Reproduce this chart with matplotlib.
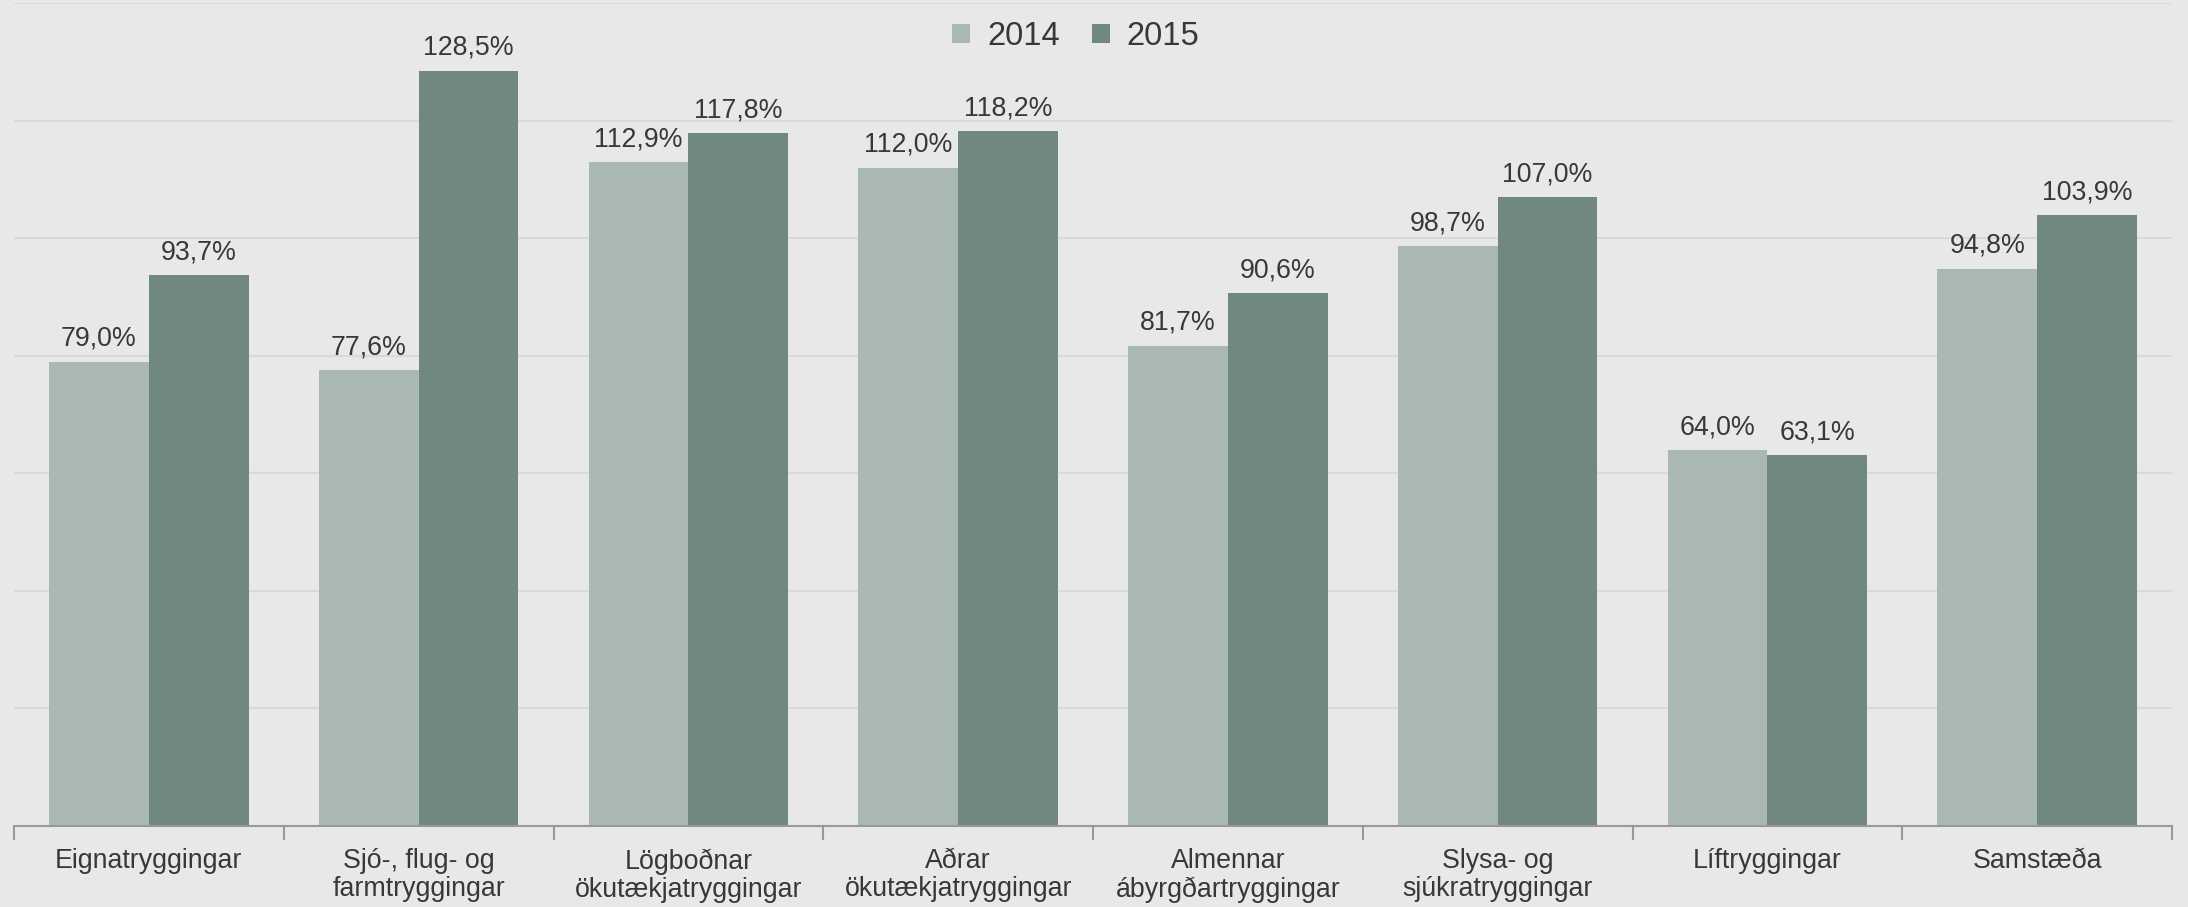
import matplotlib
matplotlib.use("Agg")
import matplotlib.pyplot as plt
import numpy as np

categories = ["Eignatryggingar", "Sjó-, flug- og\nfarmtryggingar", "Lögboðnar\nökutækjatryggingar",
              "Aðrar\nökutækjatryggingar", "Almennar\nábyrgðartryggingar", "Slysa- og\nsjúkratryggingar",
              "Líftryggingar", "Samstæða"]
vals_2014 = [79.0, 77.6, 112.9, 112.0, 81.7, 98.7, 64.0, 94.8]
vals_2015 = [93.7, 128.5, 117.8, 118.2, 90.6, 107.0, 63.1, 103.9]
series_names = ["2014", "2015"]

plt.rcParams['font.family'] = ['Liberation Sans', 'DejaVu Sans']
bg = "#e8e8e8"
c14 = "#a9b9b2"
c15 = "#718880"
tc = "#383838"

fig = plt.figure(figsize=(21.88, 9.07), dpi=100, facecolor=bg)
ax = fig.add_axes([0.0064, 0.0893, 0.9863, 0.9074])
ax.set_facecolor(bg)

x = np.arange(len(categories))
w = 0.37
b1 = ax.bar(x - w/2, vals_2014, w, color=c14, label=series_names[0], zorder=2)
b2 = ax.bar(x + w/2, vals_2015, w, color=c15, label=series_names[1], zorder=2)

def fmt(v):
    return f"{v:.1f}".replace(".", ",") + "%"

for bars, vals in ((b1, vals_2014), (b2, vals_2015)):
    for r, v in zip(bars, vals):
        ax.annotate(fmt(v), (r.get_x() + r.get_width()/2, v), xytext=(0, 7),
                    textcoords="offset points", ha="center", va="bottom",
                    fontsize=19.3, color=tc)

ax.set_xlim(-0.5, len(categories) - 0.5)
ax.set_ylim(0, 140)
ax.set_yticks(np.arange(20, 141, 20))
ax.yaxis.grid(True, color="#d9d9d9", linewidth=1.5, zorder=0)
ax.tick_params(axis='y', left=False, labelleft=False)
for s in ("left", "right", "top"):
    ax.spines[s].set_visible(False)
ax.spines["bottom"].set_color("#999999")
ax.spines["bottom"].set_linewidth(1.5)

ax.set_xticks(np.arange(-0.5, len(categories), 1.0))
ax.set_xticklabels([])
ax.tick_params(axis='x', which='major', length=10, width=1.5, color="#999999")
ax.set_xticks(x, minor=True)
ax.set_xticklabels(categories, minor=True, fontsize=19.3, color=tc, linespacing=1.1)
ax.tick_params(axis='x', which='minor', length=0, pad=16)

leg = ax.legend(loc="upper center", bbox_to_anchor=(0.492, 1.0), ncol=2, frameon=False,
                fontsize=23.5, handlelength=0.55, handleheight=0.55, columnspacing=0.97,
                handletextpad=0.53, labelcolor=tc, borderaxespad=0.15)

fig.savefig("out.png", dpi=100, facecolor=bg)
